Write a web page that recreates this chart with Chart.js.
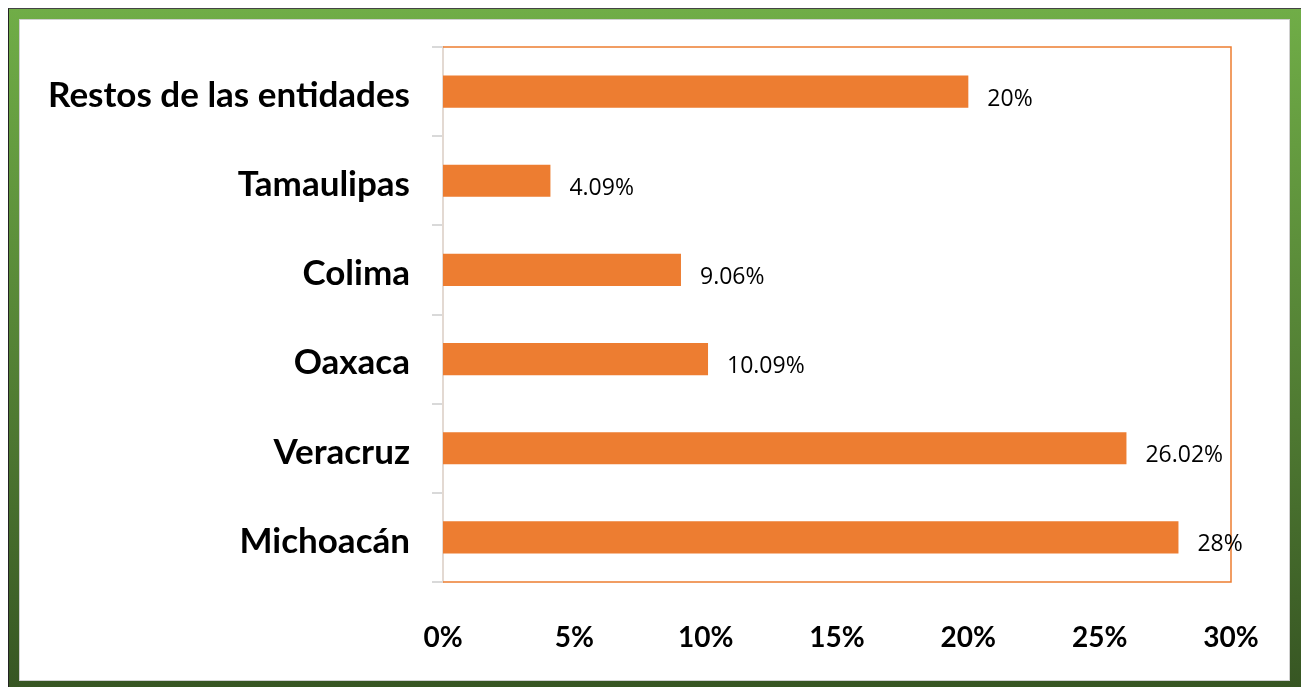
<!DOCTYPE html>
<html>
<head>
<meta charset="utf-8">
<script src="https://cdn.jsdelivr.net/npm/chart.js@4.4.1/dist/chart.umd.min.js"></script>
<style>
    html, body { margin: 0; padding: 0; background: #fff; }
    body { width: 1301px; height: 687px; position: relative; overflow: hidden; }
    #frame {
        position: absolute; left: 8px; top: 8px; width: 1293px; height: 679px;
        border-left: 1px solid #222; border-top: 1px solid #444;
        background: linear-gradient(to bottom, #70ad47 0%, #4f7a32 60%, #375623 100%);
    }
    #panel {
        position: absolute; left: 19px; top: 19px; width: 1269px; height: 660px;
        border: 1px solid #d0d0d0; background: #fff;
    }
    #wrap { position: absolute; left: 0; top: 0; width: 1301px; height: 687px; }
</style>
</head>
<body>
<div id="frame"></div>
<div id="panel"></div>
<div id="wrap"><canvas id="chart_id"></canvas></div>
<script>
// categories top to bottom
const estados = ['Restos de las entidades', 'Tamaulipas', 'Colima', 'Oaxaca', 'Veracruz', 'Michoacán'];
const porcentajes = [20, 4.09, 9.06, 10.09, 26.02, 28];
const etiquetas = ['20%', '4.09%', '9.06%', '10.09%', '26.02%', '28%'];

const naranja = '#ed7d31';

// orange frame around plot area + value labels
const marcoPlugin = {
    id: 'marco',
    afterDatasetsDraw(chart) {
        const ctx = chart.ctx;
        const a = chart.chartArea;
        ctx.save();
        ctx.strokeStyle = naranja;
        ctx.lineWidth = 1.5;
        ctx.beginPath();
        ctx.moveTo(a.left, a.top);
        ctx.lineTo(a.right, a.top);
        ctx.lineTo(a.right, a.bottom);
        ctx.lineTo(a.left, a.bottom);
        ctx.stroke();

        ctx.fillStyle = '#000';
        ctx.font = '23px "Open Sans"';
        ctx.textBaseline = 'alphabetic';
        chart.getDatasetMeta(0).data.forEach((bar, i) => {
            ctx.fillText(etiquetas[i], bar.x + 19, bar.y + 14);
        });
        ctx.restore();
    }
};

new Chart(document.getElementById('chart_id'), {
    type: 'bar',
    data: {
        labels: estados,
        datasets: [{
            data: porcentajes,
            backgroundColor: naranja,
            categoryPercentage: 1,
            barPercentage: 0.36
        }]
    },
    options: {
        indexAxis: 'y',
        responsive: true,
        maintainAspectRatio: false,
        animation: false,
        layout: { padding: { left: 20, top: 47, right: 70, bottom: 0 } },
        plugins: {
            legend: { display: false },
            tooltip: { enabled: false }
        },
        scales: {
            x: {
                min: 0,
                max: 30,
                grid: { display: false },
                border: { display: false },
                ticks: {
                    stepSize: 5,
                    padding: 31,
                    color: '#000',
                    font: { family: 'Lato', size: 28, weight: 'bold' },
                    callback: (v) => v + '%'
                },
                afterFit: (s) => { s.height = 105; }
            },
            y: {
                grid: {
                    display: true,
                    drawOnChartArea: false,
                    offset: true,
                    tickLength: 11,
                    color: '#d9d9d9',
                    lineWidth: 2
                },
                border: { color: '#e3d9d2', width: 2 },
                ticks: {
                    padding: 22,
                    labelOffset: 4,
                    color: '#000',
                    font: { family: 'Lato', size: 35, weight: 'bold' }
                },
                afterFit: (s) => { s.width = 423; }
            }
        }
    },
    plugins: [marcoPlugin]
});
</script>
</body>
</html>
